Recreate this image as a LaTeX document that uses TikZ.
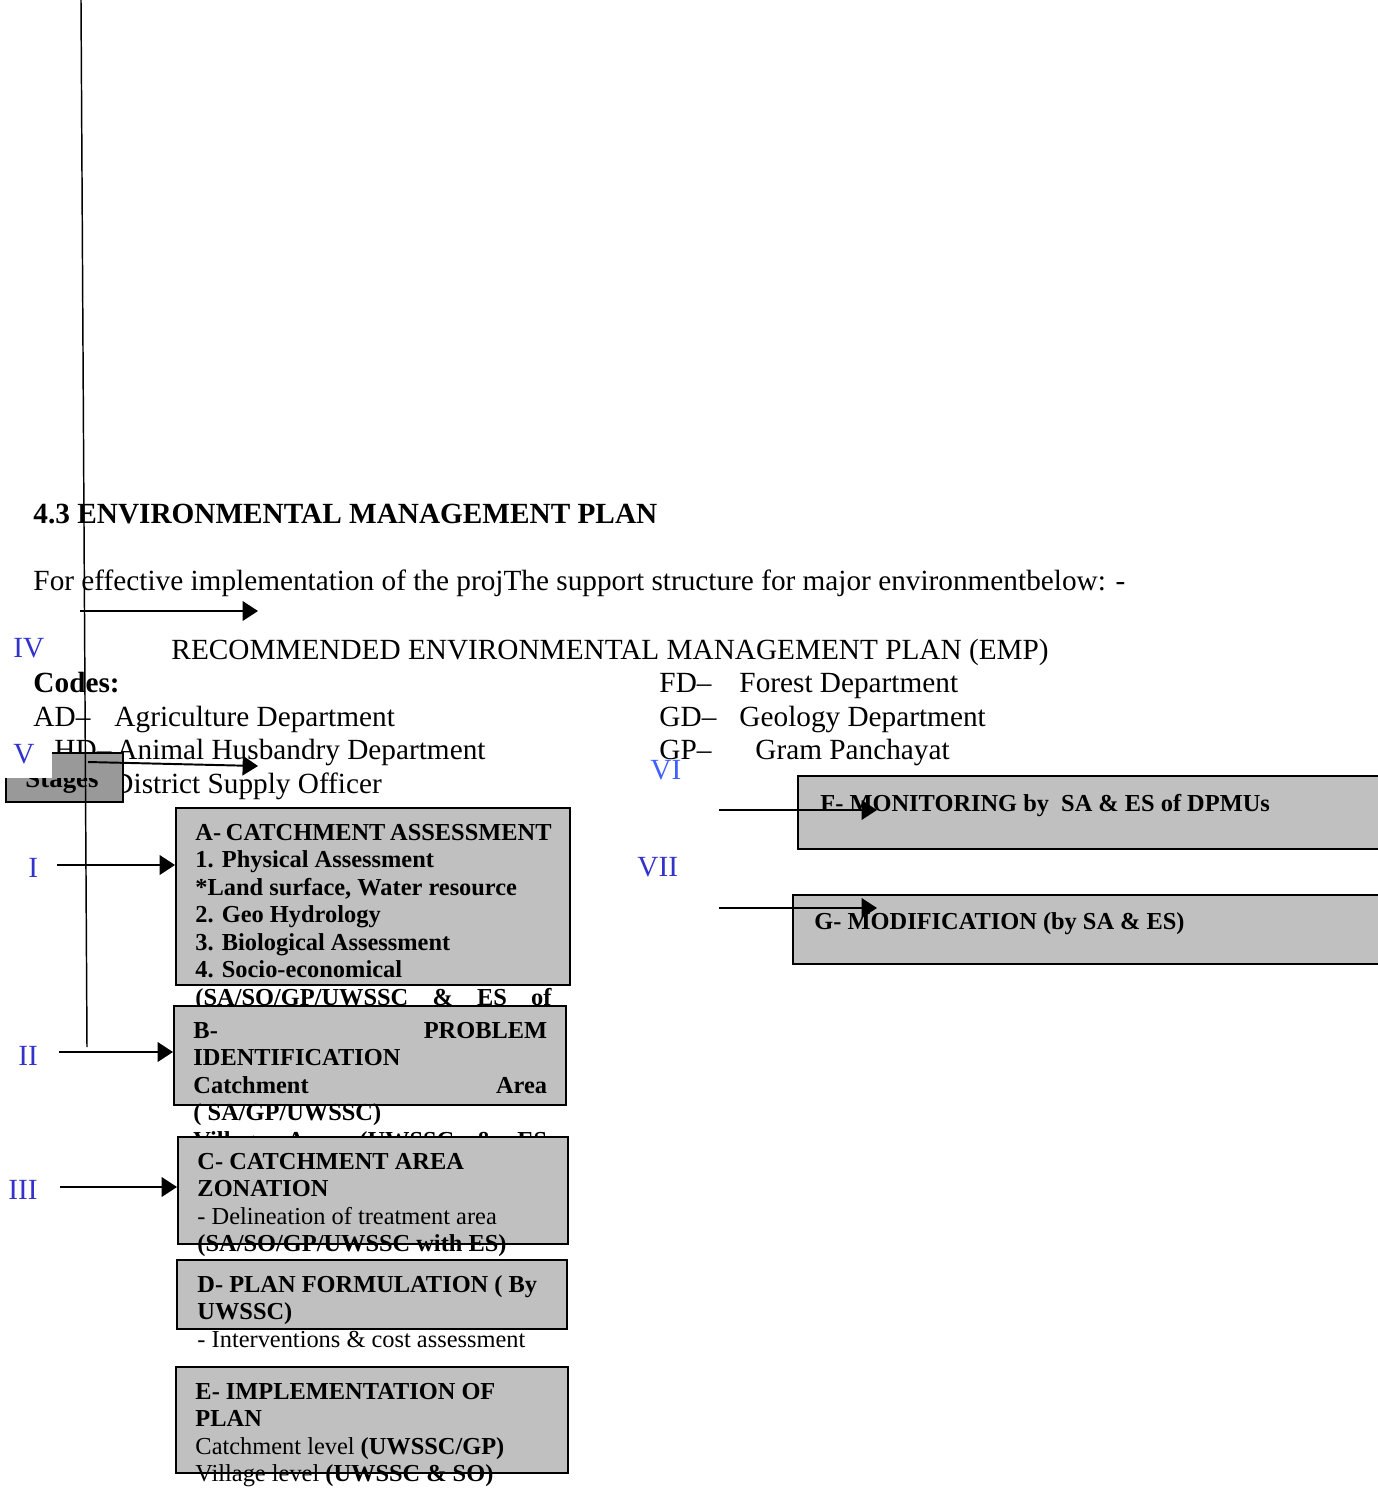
\documentclass[tikz,border=0pt]{standalone}
\usepackage{fontspec}
\setmainfont{Liberation Serif}
\usetikzlibrary{arrows.meta,fit}
\definecolor{numblue}{RGB}{51,51,204}
\definecolor{numlight}{RGB}{64,96,255}
\definecolor{boxgray}{RGB}{192,192,192}
\definecolor{stagegray}{RGB}{153,153,153}
\begin{document}
\begin{tikzpicture}[x=0.41pt, y=-0.41pt, >={Triangle[length=6.3pt,width=8pt]},
	txt/.style={anchor=base west, inner sep=0pt, font=\fontsize{12}{13.8}\selectfont},
	boldtxt/.style={txt, font=\fontsize{12}{13.8}\selectfont\bfseries},
	num/.style={txt, text=numblue},
	boxtxt/.style={anchor=base west, inner sep=0pt, font=\fontsize{10}{11.3}\selectfont\bfseries},
	empbox/.style={draw, line width=0.8pt, fill=boxgray, inner sep=0pt},
	arr/.style={->, line width=0.8pt}]
	\useasboundingbox (0,0) rectangle (1377,1488);

	\node[boldtxt] (head) at (33,523) {4.3 ENVIRONMENTAL MANAGEMENT PLAN};
	\node[txt] (intro) at (33,590) {For effective implementation of the projThe support structure for major environmentbelow: -};
	\node[txt] (title) at (171,659) {RECOMMENDED ENVIRONMENTAL MANAGEMENT PLAN (EMP)};
	\node[boldtxt] (codes) at (33,692) {Codes:};
	\node[txt] (cFD) at (659,692) {FD--};
	\node[txt] (dFD) at (739,692) {Forest Department};
	\node[txt] (cAD) at (33,726) {AD--};
	\node[txt] (dAD) at (114,726) {Agriculture Department};
	\node[txt] (cGD) at (659,726) {GD--};
	\node[txt] (dGD) at (739,726) {Geology Department};
	\node[txt] (cHD) at (54,759) {HD--};
	\node[txt] (dHD) at (116,759) {Animal Husbandry Department};
	\node[txt] (cGP) at (659,759) {GP--};
	\node[txt] (dGP) at (755,759) {Gram Panchayat};
	\node[txt] (dDS) at (112,793) {District Supply Officer};

	\node[fit={(6,753) (123,802)}, draw, line width=0.8pt, fill=stagegray, inner sep=0pt] (stg) {};
	\begin{scope}
		\clip (stg.south west) rectangle (123,778);
		\node[boxtxt, font=\fontsize{11}{13}\selectfont\bfseries] (stgtxt) at (25,787) {Stages};
	\end{scope}
	\node[fit={(0,730) (52,778)}, fill=white, inner sep=0pt] (vcover) {};

	\node[num] (nIV) at (13,657) {IV};
	\node[num] (nV) at (13,763) {V};
	\node[num, text=numlight] (nVI) at (650,779) {VI};
	\node[num] (nVII) at (637,876) {VII};
	\node[num] (nI) at (28,877) {I};
	\node[num] (nII) at (18,1065) {II};
	\node[num] (nIII) at (8,1199) {III};

	\node[empbox, fit={(176,808) (570,985)}] (boxA) {};
	\node[boxtxt] (tA) at (195,840) {\parbox[t]{146pt}{A- CATCHMENT ASSESSMENT\\
		1. Physical Assessment\\
		\relax*Land surface, Water resource\\
		2. Geo Hydrology\\
		3. Biological Assessment\\
		4. Socio-economical\\
		\makebox[146pt][s]{(SA/SO/GP/UWSSC \& ES of}}};

	\node[empbox, fit={(174,1006) (566,1105)}] (boxB) {};
	\node[boxtxt] (tB) at (193,1038) {\parbox[t]{145pt}{\makebox[145pt][s]{B- PROBLEM}\\
		IDENTIFICATION\\
		\makebox[145pt][s]{Catchment Area}\\
		( SA/GP/UWSSC)\\
		\makebox[145pt][s]{Village Area (UWSSC \& ES}}};

	\node[empbox, fit={(178,1137) (568,1244)}] (boxC) {};
	\node[boxtxt] (tC) at (197,1169) {\parbox[t]{145pt}{C- CATCHMENT AREA\\
		ZONATION\\
		{\mdseries - Delineation of treatment area}\\
		(SA/SO/GP/UWSSC with ES)}};

	\node[empbox, fit={(177,1260) (567,1329)}] (boxD) {};
	\node[boxtxt] (tD) at (197,1292) {\parbox[t]{145pt}{D- PLAN FORMULATION ( By\\
		UWSSC)\\
		{\mdseries - Interventions \& cost assessment}}};

	\node[empbox, fit={(176,1367) (568,1473)}] (boxE) {};
	\node[boxtxt] (tE) at (195,1399) {\parbox[t]{145pt}{E- IMPLEMENTATION OF\\
		PLAN\\
		{\mdseries Catchment level} (UWSSC/GP)\\
		{\mdseries Village level} (UWSSC \& SO)}};

	\node[empbox, fit={(798,776) (1385,849)}] (boxF) {};
	\node[boxtxt] (tF) at (820,811) {F- MONITORING by\ \ SA \& ES of DPMUs};
	\node[empbox, fit={(793,895) (1385,964)}] (boxG) {};
	\node[boxtxt] (tG) at (814,929) {G- MODIFICATION (by SA \& ES)};

	\coordinate (vtop) at (81,0);
	\coordinate (vbot) at (87,1047);
	\draw[line width=0.6pt] (vtop) -- (vbot);

	\coordinate (aIV) at (80,611);
	\coordinate (hIV) at (258,611);
	\coordinate (aV) at (88,762);
	\coordinate (hV) at (258,766);
	\coordinate (aVI) at (719,810);
	\coordinate (hVI) at (877,810);
	\coordinate (aVII) at (719,908);
	\coordinate (hVII) at (877,908);
	\coordinate (aI) at (57,865);
	\coordinate (aII) at (59,1052);
	\coordinate (aIII) at (60,1187);
	\draw[arr] (aIV) -- (hIV);
	\draw[arr] (aV) -- (hV);
	\draw[arr] (aVI) -- (hVI);
	\draw[arr] (aVII) -- (hVII);
	\draw[arr] (aI) -- (aI -| boxA.west);
	\draw[arr] (aII) -- (aII -| boxB.west);
	\draw[arr] (aIII) -- (aIII -| boxC.west);
\end{tikzpicture}
\end{document}
